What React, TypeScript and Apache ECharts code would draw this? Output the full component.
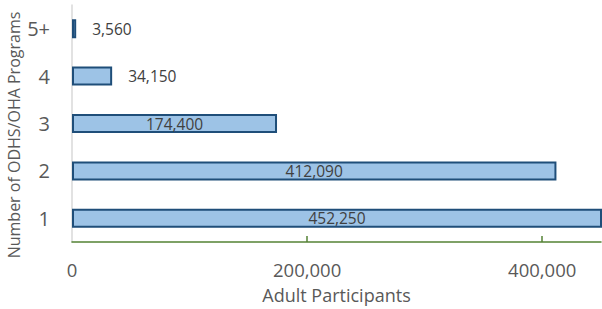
import React, { useEffect, useRef } from "react";
import * as echarts from "echarts";

const categories = ["1", "2", "3", "4", "5+"];
const participants = [452250, 412090, 174400, 34150, 3560];
const xTickLabels = [0, 200000, 400000];
const xTicks = [200000, 400000];
const outsideLabelCats = ["4", "5+"];

const FONT = "'Open Sans', 'Noto Sans', sans-serif";
const fmt = (v: number) => v.toLocaleString("en-US");

export default function App() {
  const ref = useRef<HTMLDivElement>(null);
  useEffect(() => {
    if (!ref.current) return;
    const chart = echarts.init(ref.current, null, { renderer: "svg" });
    chart.setOption({
      animation: false,
      grid: { left: 72, right: 1, top: 5, bottom: 63, containLabel: false },
      xAxis: {
        type: "value",
        min: 0,
        max: 450000,
        interval: 200000,
        name: "Adult Participants",
        nameLocation: "middle",
        nameGap: 44,
        nameTextStyle: { color: "#595959", fontSize: 18, fontFamily: FONT },
        axisLine: { show: true, lineStyle: { color: "#548235", width: 1.5 } },
        axisTick: { show: true, inside: true, length: 6, lineStyle: { color: "#548235", width: 1.5 }, customValues: xTicks },
        axisLabel: {
          color: "#595959",
          fontSize: 18.5,
          fontFamily: FONT,
          margin: 18,
          customValues: xTickLabels,
          formatter: (v: number) => fmt(v),
        },
        splitLine: { show: false },
      },
      yAxis: {
        type: "category",
        data: categories,
        axisLine: { show: true, lineStyle: { color: "#D9D9D9", width: 1.5 } },
        axisTick: { show: false },
        axisLabel: { color: "#595959", fontSize: 20, fontFamily: FONT, margin: 22 },
      },
      graphic: [
        {
          type: "text",
          x: 14,
          y: 135,
          rotation: Math.PI / 2,
          style: {
            text: "Number of ODHS/OHA Programs",
            fill: "#595959",
            fontSize: 16,
            fontFamily: FONT,
            align: "center",
            verticalAlign: "middle",
          },
        },
      ],
      series: [
        {
          type: "bar",
          barWidth: 19,
          data: participants.map((v, i) => {
            const outside = outsideLabelCats.includes(categories[i]);
            return {
              value: v,
              label: outside
                ? { show: true, position: "right", distance: 16 }
                : { show: true, position: "inside" },
            };
          }),
          itemStyle: { color: "#9DC3E6", borderColor: "#1F4E79", borderWidth: 2 },
          label: {
            show: true,
            color: "#404040",
            fontSize: 15.5,
            fontFamily: FONT,
            formatter: (p: any) => fmt(p.value),
          },
        },
      ],
    });
    return () => chart.dispose();
  }, []);
  return <div ref={ref} style={{ position: "absolute", left: 0, top: 0, width: 602, height: 309 }} />;
}
